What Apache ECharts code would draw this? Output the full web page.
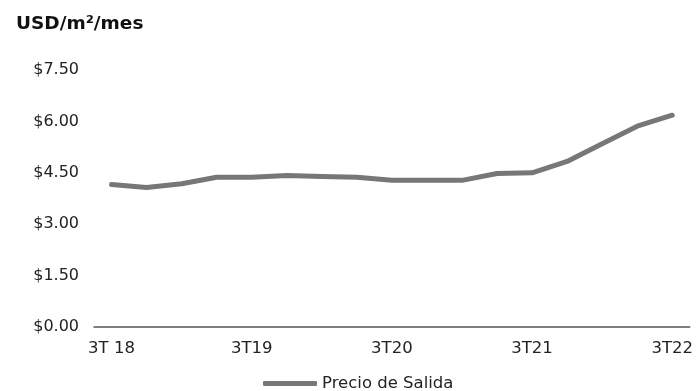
<!DOCTYPE html>
<html><head><meta charset="utf-8">
<script src="https://cdn.jsdelivr.net/npm/echarts@6/dist/echarts.min.js"></script>
<style>html,body{margin:0;padding:0;background:#fff}#c{width:696px;height:391px}</style>
</head><body><div id="c"></div>
<script>
const categories = ["3T 18","4T18","1T19","2T19","3T19","4T19","1T20","2T20","3T20","4T20","1T21","2T21","3T21","4T21","1T22","2T22","3T22"];
const precioSalida = [4.16,4.07,4.18,4.37,4.37,4.42,4.39,4.37,4.28,4.28,4.28,4.48,4.50,4.83,5.35,5.86,6.18];
const yTicks = [0,1.5,3,4.5,6,7.5];
const seriesName = "Precio de Salida";
const titleText = "USD/m²/mes";
const FONT = "DejaVu Sans";
const chart = echarts.init(document.getElementById('c'));
chart.setOption({
  animation:false,
  title:{text:titleText,left:11,top:10,textStyle:{fontFamily:FONT,fontWeight:'bold',fontSize:18.5,color:'#111'}},
  grid:{left:94,right:5,top:70,bottom:64},
  legend:{data:[{name:seriesName,icon:'roundRect'}],left:258,top:370,itemWidth:54,itemHeight:5,itemGap:5,
    textStyle:{fontFamily:FONT,fontSize:16.5,color:'#222'}},
  xAxis:{type:'category',data:categories,boundaryGap:true,
    axisLine:{lineStyle:{color:'#555',width:1.5}},axisTick:{show:false},
    axisLabel:{interval:3,fontFamily:FONT,fontSize:16.5,color:'#222',margin:13}},
  yAxis:{type:'value',min:0,max:7.5,interval:1.5,splitLine:{show:false},axisLine:{show:false},axisTick:{show:false},
    axisLabel:{fontFamily:FONT,fontSize:16,color:'#222',margin:15,
      formatter:v=>'$'+yTicks.find(t=>Math.abs(t-v)<1e-9).toFixed(2)}},
  series:[{name:seriesName,type:'line',data:precioSalida,symbol:'none',
    lineStyle:{color:'#777',width:5,cap:'round',join:'round'},itemStyle:{color:'#777'}}]
});
</script></body></html>
